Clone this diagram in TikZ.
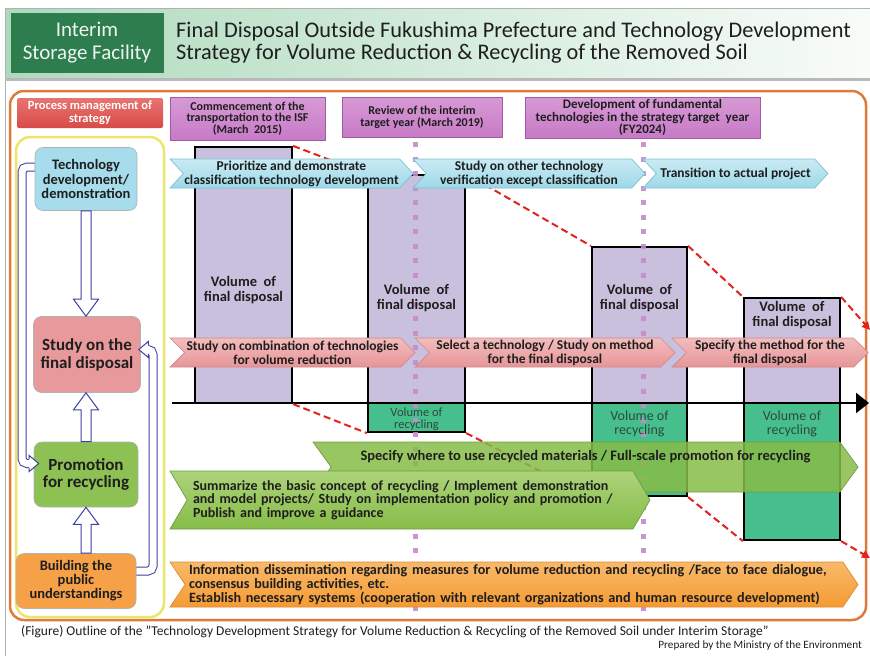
\documentclass[tikz,border=0pt]{standalone}
\usepackage{fontspec}
\setmainfont{Carlito}
\usetikzlibrary{shapes.symbols,arrows.meta,calc}
\definecolor{hdrdark}{HTML}{2E7D4F}
\definecolor{hdrL}{HTML}{AEDABC}
\definecolor{procred}{HTML}{D84B47}
\definecolor{procredL}{HTML}{E77470}
\definecolor{msfill}{HTML}{C77AC6}
\definecolor{msfillL}{HTML}{D79AD6}
\definecolor{msdraw}{HTML}{A25AA2}
\definecolor{barfill}{HTML}{C8C0DC}
\definecolor{grnbar}{HTML}{47BF8C}
\definecolor{recytext}{HTML}{2B4A40}
\definecolor{bluefill}{HTML}{9ED8E8}
\definecolor{bluefillL}{HTML}{C9EBF4}
\definecolor{bluedraw}{HTML}{7FC0D2}
\definecolor{pinkfill}{HTML}{E79597}
\definecolor{pinkfillL}{HTML}{F2BDBE}
\definecolor{pinkdraw}{HTML}{D0898A}
\definecolor{grnfill}{HTML}{86BC48}
\definecolor{grnfillL}{HTML}{ADD37A}
\definecolor{grndraw}{HTML}{6E9E3E}
\definecolor{orfill}{HTML}{F59A33}
\definecolor{orfillL}{HTML}{F9B96A}
\definecolor{ordraw}{HTML}{DD8A2E}
\definecolor{techfill}{HTML}{A6DCEC}
\definecolor{studyfill}{HTML}{E8999B}
\definecolor{promofill}{HTML}{8EC153}
\definecolor{buildfill}{HTML}{F6A048}
\definecolor{hblue}{HTML}{3B41A0}
\definecolor{dotc}{HTML}{C58BCB}
\definecolor{redc}{HTML}{E3211E}
\definecolor{framor}{HTML}{E07A3A}
\definecolor{framy}{HTML}{EAE66A}
\definecolor{textc}{HTML}{1E1E1E}
\begin{document}
\begin{tikzpicture}[x=1pt,y=-1pt,
  txt/.style={text=textc, align=center, inner sep=1pt},
  mstone/.style={draw=msdraw, line width=0.8pt, top color=msfillL, bottom color=msfill, txt, font=\fontsize{12}{11.8}\selectfont\bfseries},
  vbar/.style={draw=black, line width=2.2pt, fill=barfill, inner sep=0pt},
  rbar/.style={draw=black, line width=2.2pt, fill=grnbar, inner sep=0pt},
  vtxt/.style={txt, font=\fontsize{14.5}{15}\selectfont\bfseries},
  rtxt/.style={align=center, text=recytext, font=\fontsize{14}{14}\selectfont, inner sep=0pt},
  chev/.style={shape=signal, signal from=west, signal to=east, inner sep=1pt, inner xsep=0pt, txt, line width=0.7pt},
  bluearr/.style={chev, top color=bluefillL, bottom color=bluefill, draw=bluedraw, minimum height=29, signal pointer angle=95, font=\fontsize{13.5}{14}\selectfont\bfseries},
  pinkarr/.style={chev, top color=pinkfillL, bottom color=pinkfill, draw=pinkdraw, minimum height=29, signal pointer angle=90, font=\fontsize{13.5}{14}\selectfont\bfseries},
  grnarr/.style={chev, top color=grnfillL, bottom color=grnfill, draw=grndraw, font=\fontsize{14}{13.5}\selectfont\bfseries},
  orarr/.style={chev, top color=orfillL, bottom color=orfill, draw=ordraw, font=\fontsize{14.2}{14}\selectfont\bfseries},
  lbox/.style={txt, rounded corners=8pt, draw=white!70!black, line width=0.6pt},
  hollow/.style={draw=hblue, fill=white, line width=1pt},
  loop/.style={draw=hblue, line width=1pt, double=white, double distance=7pt, rounded corners=5pt},
  reddash/.style={draw=redc, line width=2pt, dash pattern=on 7pt off 4pt},
  dotline/.style={draw=dotc, line width=5pt, dash pattern=on 5pt off 9.5pt, opacity=0.9},
]
\useasboundingbox (0,0) rectangle (870,656);
% header
\fill[left color=hdrL, right color=white!92!hdrL] (5,8) rectangle (870,78);
\draw[gray!60, line width=1pt] (5,8) -- (5,656);
\draw[gray!60, line width=0.6pt] (5,8) -- (870,8);
\fill[gray!55] (5,78) rectangle (870,81);
\node[fill=hdrdark, text=white!92!hdrdark, minimum width=153, minimum height=60, align=center, font=\fontsize{21}{23}\selectfont, inner sep=0pt] (isf) at (87,43) {Interim\\Storage Facility};
\node[anchor=west, align=left, font=\fontsize{22.3}{22}\selectfont, inner sep=0pt, text=textc] (title) at (176,43) {Final Disposal Outside Fukushima Prefecture and Technology Development\\Strategy for Volume Reduction \& Recycling of the Removed Soil};
% frames
\draw[framor, line width=2.5pt, rounded corners=14pt] (10,91) rectangle (866,620);
\draw[framy, line width=2.5pt, rounded corners=14pt] (16,137) rectangle (164,617);
\node[top color=procredL, bottom color=procred, text=white, minimum width=146, minimum height=30, align=center, font=\fontsize{12.5}{13}\selectfont\bfseries, inner sep=0pt, rounded corners=2pt] (pm) at (90,113) {Process management of\\strategy};
% milestones
\node[mstone, minimum width=155, minimum height=43] (m1) at (247.5,118.5) {Commencement of the\\transportation to the ISF\\(March \ 2015)};
\node[mstone, minimum width=160, minimum height=40] (m2) at (422,117) {Review of the interim\\target year (March 2019)};
\node[mstone, minimum width=235, minimum height=41, font=\fontsize{13}{12.5}\selectfont\bfseries] (m3) at (642.5,117.5) {Development of fundamental\\technologies in the strategy target \ year\\(FY2024)};
% bars
\node[vbar, minimum width=97, minimum height=256] (b1) at (243.5,275) {};
\node[vbar, minimum width=97, minimum height=228] (b2) at (416.5,289) {};
\node[vbar, minimum width=95, minimum height=156] (b3) at (639.5,325) {};
\node[vbar, minimum width=96, minimum height=105] (b4) at (792,350.5) {};
\node[rbar, minimum width=97, minimum height=29] (g1) at (416.5,417.5) {};
\node[rbar, minimum width=95, minimum height=93] (g2) at (639.5,449.5) {};
\node[rbar, minimum width=96, minimum height=137] (g3) at (792,471.5) {};
% dotted milestone lines
\coordinate (d1a) at (415,142); \coordinate (d1b) at (415,620);
\coordinate (d2a) at (643,142); \coordinate (d2b) at (643,620);
\draw[dotline] (d1a) -- (d1b);
\draw[dotline] (d2a) -- (d2b);
% bar texts
\node[vtxt] (b1t) at (243.5,290) {Volume \ of\\final disposal};
\node[vtxt] (b2t) at (416.5,298) {Volume \ of\\final disposal};
\node[vtxt] (b3t) at (639.5,298) {Volume \ of\\final disposal};
\node[vtxt] (b4t) at (792,315) {Volume \ of\\final disposal};
\node[rtxt, font=\fontsize{12.5}{12.5}\selectfont] (g1t) at (416.5,419) {Volume of\\recycling};
\node[rtxt] (g2t) at (639.5,424) {Volume of\\recycling};
\node[rtxt] (g3t) at (792,424) {Volume of\\recycling};
% axis
\coordinate (ax0) at (172,403); \coordinate (ax1) at (869,403);
\draw[line width=2.5pt, -{Triangle[length=13pt,width=20pt]}] (ax0) -- (ax1);
% red dashed
\coordinate (r1) at (870,330); \coordinate (r2) at (870,558);
\draw[reddash] (b1.north east) -- (b2.north west);
\draw[reddash] (b2.north east) -- (b3.north west);
\draw[reddash] (b3.north east) -- (b4.north west);
\draw[reddash, -{Triangle[length=8pt,width=8pt]}] (b4.north east) -- (r1);
\draw[reddash] (b1.south east) -- (g1.south west);
\draw[reddash] (g1.south east) -- (g2.south west);
\draw[reddash] (g2.south east) -- (g3.south west);
\draw[reddash, -{Triangle[length=8pt,width=8pt]}] (g3.south east) -- (r2);
% blue arrows
\node[bluearr, minimum width=243] (a1) at (291.5,173.5) {Prioritize and demonstrate\\classification technology development};
\node[bluearr, minimum width=232] (a2) at (529,173.5) {Study on other technology\\verification except classification};
\node[bluearr, minimum width=185] (a3) at (735.5,173.5) {Transition to actual project};
% pink arrows
\node[pinkarr, minimum width=245] (p1) at (292.5,352.5) {Study on combination of technologies\\for volume reduction};
\node[pinkarr, minimum width=260] (p2) at (545,352.5) {Select a technology / Study on method\\for the final disposal};
\node[pinkarr, minimum width=196] (p3) at (770,352.5) {Specify the method for the\\final disposal};
% green arrows
\node[chev, fill=grnfill, draw=grndraw, fill opacity=0.85, text opacity=1, minimum width=545, minimum height=50, signal pointer angle=108, font=\fontsize{14.5}{14}\selectfont\bfseries, text depth=24pt] (ga1) at (585.5,467) {Specify where to use recycled materials / Full-scale promotion for recycling};
\node[grnarr, minimum width=480, minimum height=58, signal pointer angle=119, align=left, text width=434] (ga2) at (410,500) {Summarize the basic concept of recycling / Implement demonstration\\and model projects/ Study on implementation policy and promotion /\\Publish and improve a guidance};
% orange arrow
\node[orarr, minimum width=688, minimum height=45, signal pointer angle=112, align=left, text width=650] (oa) at (514,584.5) {Information dissemination regarding measures for volume reduction and recycling /Face to face dialogue,\\consensus building activities, etc.\\Establish necessary systems (cooperation with relevant organizations and human resource development)};
% left column
\node[lbox, fill=techfill, minimum width=102, minimum height=63, font=\fontsize{14.5}{14.5}\selectfont\bfseries] (tech) at (86,179) {Technology\\development/\\demonstration};
\node[lbox, fill=studyfill, minimum width=107, minimum height=76, font=\fontsize{17}{18}\selectfont\bfseries] (study) at (87,354.5) {Study on the\\final disposal};
\node[lbox, fill=promofill, minimum width=104, minimum height=65, font=\fontsize{17}{17}\selectfont\bfseries] (promo) at (86,474.5) {Promotion\\for recycling};
\node[lbox, fill=buildfill, minimum width=120, minimum height=55, font=\fontsize{14.5}{14}\selectfont\bfseries] (build) at (76,581) {Building the\\public\\understandings};
% hollow block arrows
\draw[hollow] let \p1=(tech.south), \p2=(study.north) in
  (\x1-5pt,\y1) -- (\x1-5pt,\y2+17pt) -- (\x1-12.5pt,\y2+17pt) -- (\x1,\y2) -- (\x1+12.5pt,\y2+17pt) -- (\x1+5pt,\y2+17pt) -- (\x1+5pt,\y1) -- cycle;
\draw[hollow] let \p1=(promo.north), \p2=(study.south) in
  (\x1-5pt,\y1) -- (\x1-5pt,\y2-17pt) -- (\x1-12.5pt,\y2-17pt) -- (\x1,\y2) -- (\x1+12.5pt,\y2-17pt) -- (\x1+5pt,\y2-17pt) -- (\x1+5pt,\y1) -- cycle;
\draw[hollow] let \p1=(promo.south), \p2=(build.north) in
  (\x1-5pt,\y2) -- (\x1-5pt,\y1-17pt) -- (\x1-12.5pt,\y1-17pt) -- (\x1,\y1) -- (\x1+12.5pt,\y1-17pt) -- (\x1+5pt,\y1-17pt) -- (\x1+5pt,\y2) -- cycle;
% loops
\coordinate (lt) at ($(promo.west)+(5,-11)$);
\draw[loop] ($(tech.west)+(0,-12)$) -- (22,167) -- (22,463.5) -- ($(lt)+(-9,0)$);
\fill[white] ($(lt)+(-9.5,-8)$) -- (lt) -- ($(lt)+(-9.5,8)$) -- cycle;
\draw[hblue, line width=1pt] ($(lt)+(-9.5,-4.5)$) -- ($(lt)+(-9.5,-8)$) -- (lt) -- ($(lt)+(-9.5,8)$) -- ($(lt)+(-9.5,4.5)$);
\coordinate (rt) at ($(study.east)+(-2,-5)$);
\draw[loop] ($(build.east)+(0,-10)$) -- (153,571) -- (153,349.5) -- ($(rt)+(9,0)$);
\fill[white] ($(rt)+(9.5,-8)$) -- (rt) -- ($(rt)+(9.5,8)$) -- cycle;
\draw[hblue, line width=1pt] ($(rt)+(9.5,-4.5)$) -- ($(rt)+(9.5,-8)$) -- (rt) -- ($(rt)+(9.5,8)$) -- ($(rt)+(9.5,4.5)$);
% caption
\node[anchor=west, font=\fontsize{13.5}{14}\selectfont, inner sep=0pt, text=textc] (cap) at (21,632) {(Figure) Outline of the "Technology Development Strategy for Volume Reduction \& Recycling of the Removed Soil under Interim Storage"};
\node[anchor=east, font=\fontsize{11.2}{13}\selectfont, inner sep=0pt, text=textc] (prep) at (862,646) {Prepared by the Ministry of the Environment};
\end{tikzpicture}
\end{document}
